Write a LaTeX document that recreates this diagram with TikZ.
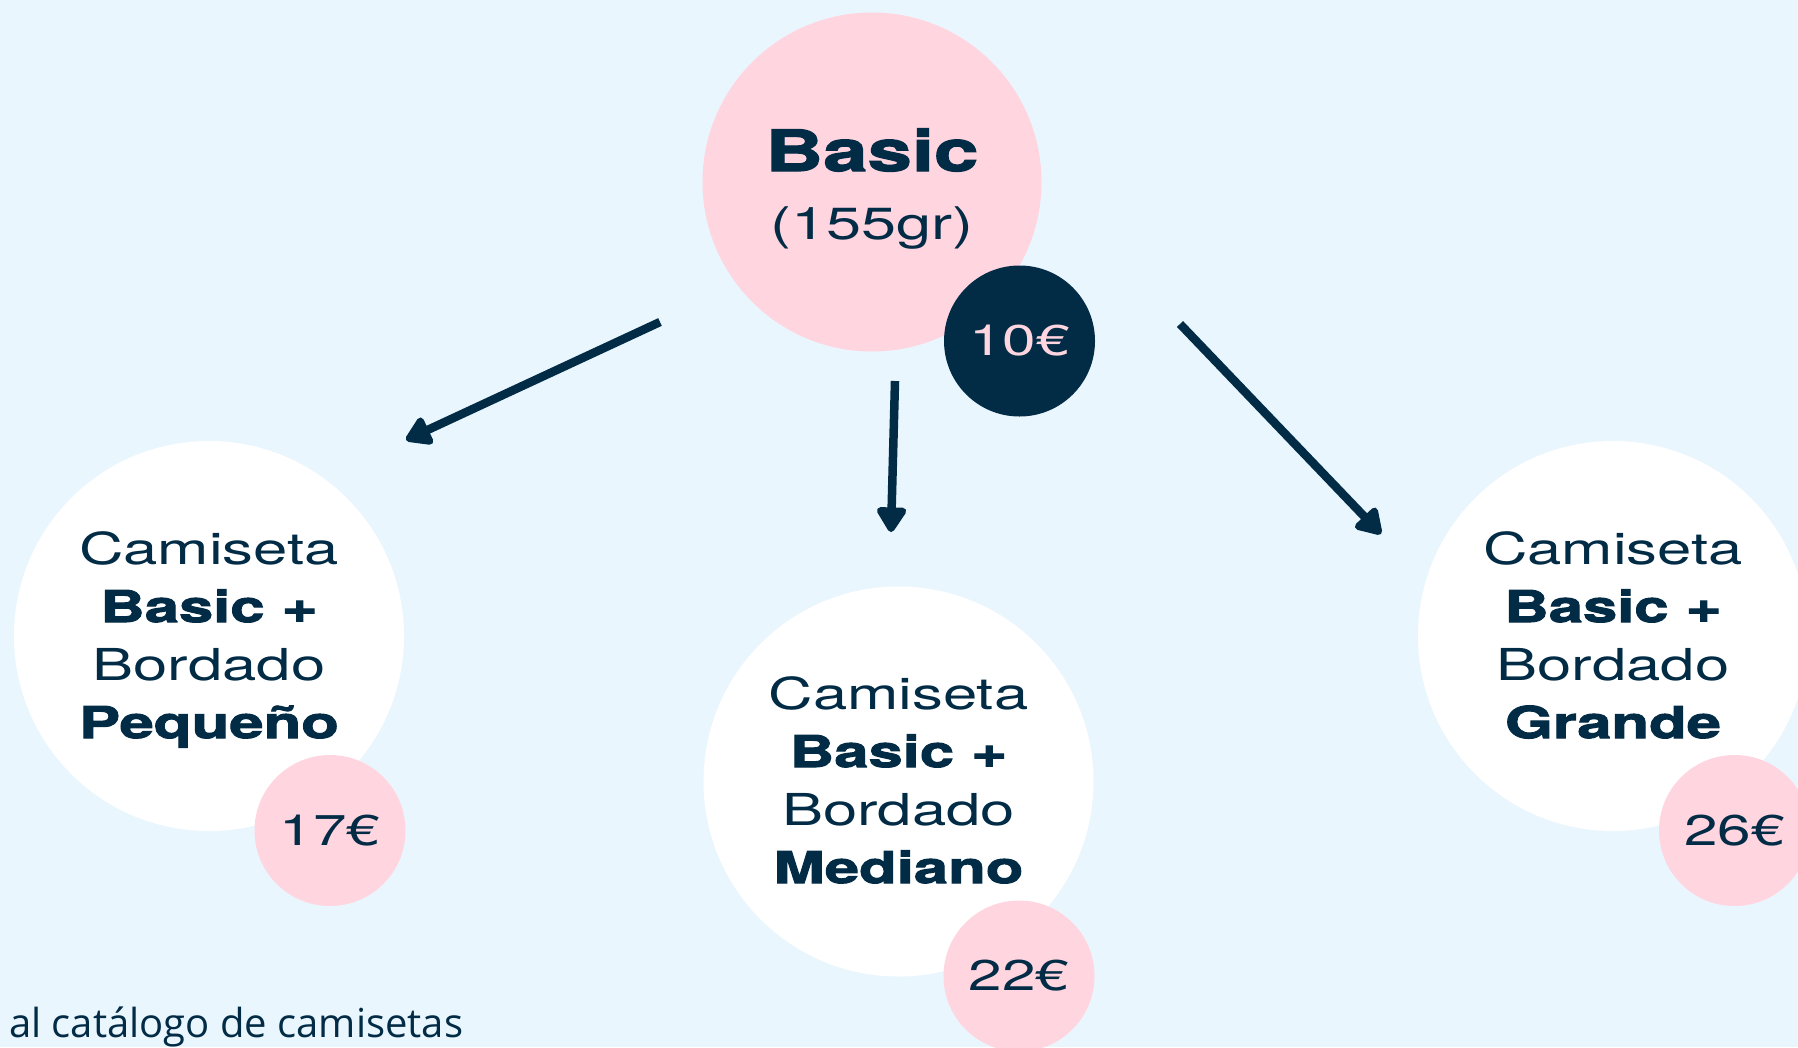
\documentclass[tikz,border=0pt]{standalone}
\usepackage{fontspec}
\usetikzlibrary{arrows.meta}
\newfontfamily\widefont[FakeStretch=1.4,BoldFeatures={FakeBold=2.2}]{TeX Gyre Heros}
\newfontfamily\plainfont{Open Sans}
\definecolor{bg}{HTML}{EAF6FE}
\definecolor{rosa}{HTML}{FFD5E0}
\definecolor{navy}{HTML}{022B45}
\tikzset{
  whitecirc/.style={circle, fill=white, minimum size=390pt, inner sep=0pt},
  pricecirc/.style={circle, fill=rosa, minimum size=151pt, inner sep=0pt, text=navy,
    font=\widefont\fontsize{43}{50}\selectfont},
  lbl/.style={align=center, text=navy, inner sep=0pt, anchor=north,
    font=\widefont\fontsize{44}{58}\selectfont},
  arr/.style={line width=8.5pt, draw=navy, -{Triangle[length=28pt,width=33pt,round]}}
}
\begin{document}
\begin{tikzpicture}[x=1pt,y=-1pt]
\useasboundingbox (0,0) rectangle (1798,1047);
\clip (0,0) rectangle (1798,1047);
\fill[bg] (0,0) rectangle (1798,1047);

% top
\node[circle, fill=rosa, minimum size=339pt, inner sep=0pt] (top) at (872,182) {};
\node[anchor=base, text=navy, inner sep=0pt, font=\widefont\bfseries\fontsize{57}{60}\selectfont] (toptitle) at (872,171) {Basic};
\node[anchor=base, text=navy, inner sep=0pt, font=\widefont\fontsize{45}{50}\selectfont] (topweight) at (872,239) {(155gr)};
\node[circle, fill=navy, minimum size=151pt, inner sep=0pt, text=rosa,
  font=\widefont\fontsize{43}{50}\selectfont] (topprice) at (1019.5,341) {10€};

% left
\node[whitecirc] (left) at (209,636) {};
\node[lbl] (lefttext) at (209,531) {Camiseta\\\textbf{Basic +}\\Bordado\\\textbf{Pequeño}};
\node[pricecirc] (leftprice) at (330,830.5) {17€};

% middle
\node[whitecirc] (mid) at (898.5,781.5) {};
\node[lbl] (midtext) at (898.5,676) {Camiseta\\\textbf{Basic +}\\Bordado\\\textbf{Mediano}};
\node[pricecirc] (midprice) at (1019,976) {22€};

% right
\node[whitecirc] (right) at (1613,636) {};
\node[lbl] (righttext) at (1613,531) {Camiseta\\\textbf{Basic +}\\Bordado\\\textbf{Grande}};
\node[pricecirc] (rightprice) at (1734.5,830.5) {26€};

% arrows
\coordinate (a1s) at (660,322);
\coordinate (a1e) at (406,440);
\coordinate (a2s) at (895,381);
\coordinate (a2e) at (891,532);
\coordinate (a3s) at (1180,324);
\coordinate (a3e) at (1381,534);
\draw[arr] (a1s) -- (a1e);
\draw[arr] (a2s) -- (a2e);
\draw[arr] (a3s) -- (a3e);

% bottom text
\node[anchor=base west, inner sep=0pt, text=navy, font=\plainfont\fontsize{40}{46}\selectfont] (foot) at (9,1037) {al catálogo de camisetas};
\end{tikzpicture}
\end{document}
